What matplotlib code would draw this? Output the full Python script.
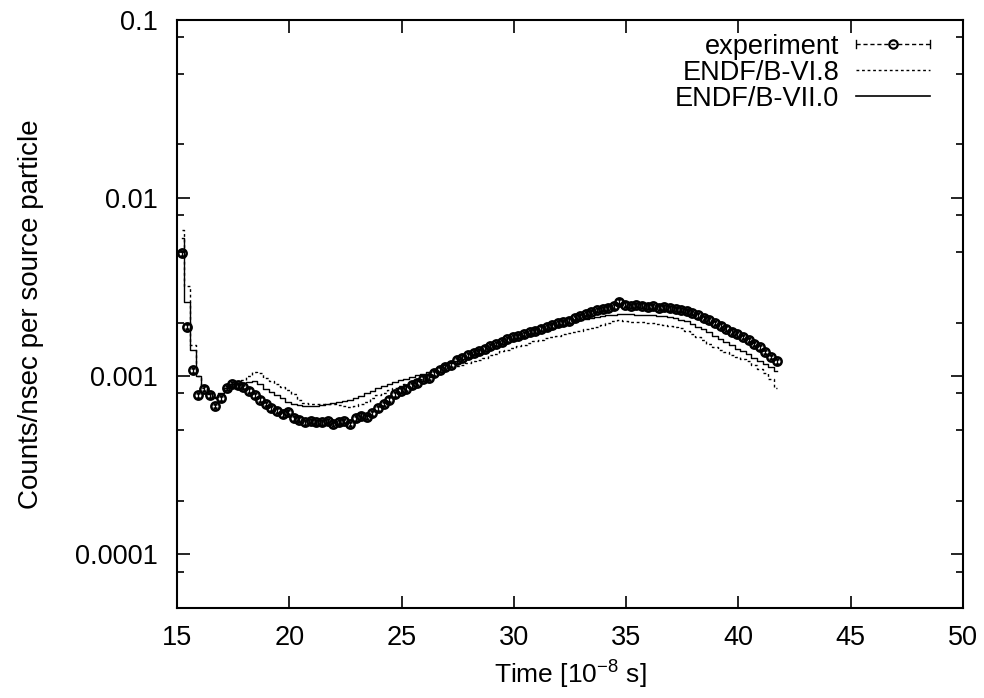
import numpy as np
import matplotlib
matplotlib.use("Agg")
import matplotlib.pyplot as plt
from matplotlib.lines import Line2D
from matplotlib.legend_handler import HandlerBase
from matplotlib.ticker import FixedLocator, NullFormatter, FuncFormatter

plt.rcParams['font.family'] = ['Liberation Sans', 'DejaVu Sans']
plt.rcParams['mathtext.fontset'] = 'custom'
plt.rcParams['mathtext.rm'] = 'Liberation Sans'
plt.rcParams['mathtext.it'] = 'Liberation Sans:italic'

# ---- data (bin centres every 0.25 starting at 15.2) ----
t_start = 15.2
t_step = 0.25

experiment = [
    0.0049, 0.0019, 0.00108, 0.00078, 0.00085, 0.00078, 0.00068, 0.00075,
    0.00086, 0.00090, 0.00089, 0.00087, 0.00083, 0.00078, 0.00074, 0.00070,
    0.00066, 0.00064, 0.00061, 0.00063, 0.00058, 0.00057, 0.00055, 0.00056,
    0.00055, 0.00055, 0.00056, 0.00054, 0.00055, 0.00056, 0.00054, 0.00058,
    0.00060, 0.00059, 0.00062, 0.00066, 0.00070, 0.00074, 0.00079, 0.00083,
    0.00085, 0.00089, 0.00092, 0.00097, 0.00098, 0.00104, 0.00109, 0.00113,
    0.00116, 0.00123, 0.00127, 0.00131, 0.00135, 0.00138, 0.00143, 0.00148,
    0.00152, 0.00156, 0.00161, 0.00165, 0.00168, 0.00173, 0.00177, 0.00180,
    0.00185, 0.00188, 0.00193, 0.00198, 0.00201, 0.00205, 0.00212, 0.00218,
    0.00224, 0.00229, 0.00235, 0.00238, 0.00243, 0.00247, 0.00262, 0.00252,
    0.00248, 0.00251, 0.00249, 0.00246, 0.00247, 0.00243, 0.00244, 0.00240,
    0.00238, 0.00235, 0.00232, 0.00226, 0.00220, 0.00212, 0.00206, 0.00199,
    0.00192, 0.00185, 0.00178, 0.00172, 0.00166, 0.00160, 0.00152, 0.00145,
    0.00137, 0.00128, 0.00121,
]

endf_vi8 = [
    0.0066, 0.0032, 0.0015, 0.00100, 0.00086, 0.00079, 0.00075, 0.00079,
    0.00084, 0.00088, 0.00091, 0.00095, 0.00100, 0.00105, 0.00104, 0.00098,
    0.00094, 0.00090, 0.00087, 0.00084, 0.00079, 0.00074, 0.00071, 0.00070,
    0.00070, 0.00070, 0.00070, 0.00070, 0.00069, 0.00068, 0.00067, 0.00068,
    0.00070, 0.00072, 0.00075, 0.00078, 0.00081, 0.00084, 0.00086, 0.00088,
    0.00090, 0.00092, 0.00094, 0.00096, 0.00099, 0.00102, 0.00105, 0.00108,
    0.00111, 0.00114, 0.00116, 0.00118, 0.00121, 0.00124, 0.00127, 0.00131,
    0.00134, 0.00138, 0.00141, 0.00144, 0.00147, 0.00150, 0.00153, 0.00157,
    0.00160, 0.00163, 0.00166, 0.00169, 0.00172, 0.00174, 0.00177, 0.00180,
    0.00183, 0.00187, 0.00190, 0.00194, 0.00198, 0.00204, 0.00206, 0.00204,
    0.00202, 0.00201, 0.00201, 0.00200, 0.00198, 0.00196, 0.00194, 0.00192,
    0.00190, 0.00187, 0.00180, 0.00173, 0.00166, 0.00159, 0.00152, 0.00146,
    0.00141, 0.00137, 0.00132, 0.00128, 0.00125, 0.00121, 0.00116, 0.00110,
    0.00104, 0.00096, 0.00086,
]

endf_vii0 = [
    0.0060, 0.0026, 0.0014, 0.00100, 0.00088, 0.00080, 0.00076, 0.00080,
    0.00086, 0.00090, 0.00091, 0.00092, 0.00093, 0.00094, 0.00090, 0.00085,
    0.00082, 0.00078, 0.00075, 0.00072, 0.00070, 0.00069, 0.00068, 0.00068,
    0.00068, 0.00069, 0.00070, 0.00071, 0.00072, 0.00073, 0.00074, 0.00075,
    0.00077, 0.00080, 0.00083, 0.00086, 0.00088, 0.00090, 0.00093, 0.00095,
    0.00097, 0.00099, 0.00101, 0.00103, 0.00106, 0.00109, 0.00112, 0.00115,
    0.00118, 0.00121, 0.00125, 0.00128, 0.00131, 0.00135, 0.00139, 0.00143,
    0.00147, 0.00151, 0.00155, 0.00159, 0.00163, 0.00167, 0.00171, 0.00175,
    0.00179, 0.00183, 0.00187, 0.00191, 0.00195, 0.00199, 0.00203, 0.00207,
    0.00210, 0.00213, 0.00216, 0.00219, 0.00221, 0.00222, 0.00223, 0.00223,
    0.00223, 0.00222, 0.00222, 0.00221, 0.00220, 0.00219, 0.00217, 0.00215,
    0.00212, 0.00208, 0.00203, 0.00197, 0.00190, 0.00183, 0.00176, 0.00168,
    0.00161, 0.00155, 0.00149, 0.00143, 0.00138, 0.00133, 0.00127, 0.00122,
    0.00117, 0.00112, 0.00107,
]

labels = ["experiment", "ENDF/B-VI.8", "ENDF/B-VII.0"]
x_ticks = [15, 20, 25, 30, 35, 40, 45, 50]
y_ticks = [0.0001, 0.001, 0.01, 0.1]
y_tick_labels = ["0.0001", "0.001", "0.01", "0.1"]

time = t_start + t_step * np.arange(len(experiment))
experiment = np.array(experiment)
endf_vi8 = np.array(endf_vi8)
endf_vii0 = np.array(endf_vii0)


class HandlerErrBar(HandlerBase):
    """gnuplot-like  |--o--|  legend sample"""
    def create_artists(self, legend, orig_handle, xdescent, ydescent,
                       width, height, fontsize, trans):
        y = height / 2.0 - ydescent
        x0 = -xdescent
        x1 = -xdescent + width
        cap = 3.0
        arts = [
            Line2D([x0, x1], [y, y], color='k', lw=1.0, ls=(0, (3, 2))),
            Line2D([x0, x0], [y - cap, y + cap], color='k', lw=1.0),
            Line2D([x1, x1], [y - cap, y + cap], color='k', lw=1.0),
            Line2D([(x0 + x1) / 2.0], [y], marker='o', ms=6, mfc='none',
                   mec='k', mew=1.6, ls='none'),
        ]
        for a in arts:
            a.set_transform(trans)
        return arts


# ---- figure ----
fig = plt.figure(figsize=(9.84, 6.98), dpi=100)
ax = fig.add_axes([0.180, 0.129, 0.7987, 0.8424])

ax.set_yscale('log')
ax.set_xlim(15, 50)
ax.set_ylim(5.0e-5, 0.1)

ax.plot(time, endf_vi8, drawstyle='steps-mid', color='k', lw=1.0,
        ls=(0, (2, 2)))
ax.plot(time, endf_vii0, drawstyle='steps-mid', color='k', lw=1.0, ls='-')
ax.errorbar(time, experiment, yerr=0.03 * experiment, fmt='o', ms=6,
            mfc='none', mec='k', mew=1.8, ecolor='k', elinewidth=1.0,
            capsize=1.5, color='k')

# ticks
ax.xaxis.set_major_locator(FixedLocator(x_ticks))
ax.yaxis.set_major_locator(FixedLocator(y_ticks))
ax.yaxis.set_major_formatter(FuncFormatter(
    lambda v, p: dict(zip(y_ticks, y_tick_labels)).get(v, "")))
minor = [m * 10.0 ** e for e in range(-5, -1) for m in (2, 5, 8)]
ax.yaxis.set_minor_locator(FixedLocator(minor))
ax.yaxis.set_minor_formatter(NullFormatter())
ax.tick_params(which='major', direction='in', length=9, width=1.2,
               top=True, right=True, labelsize=19.5, colors='k')
ax.tick_params(which='minor', direction='in', length=5, width=1.2,
               top=False, right=True, left=True)
ax.tick_params(axis='x', pad=12)
ax.tick_params(axis='y', pad=14)
for s in ax.spines.values():
    s.set_linewidth(1.5)

ax.set_xlabel('Time [10$^{\\mathregular{-8}}$ s]', fontsize=19, labelpad=6)
ax.set_ylabel('Counts/nsec per source particle', fontsize=20, labelpad=22)

handles = [
    Line2D([], [], color='k'),
    Line2D([], [], color='k', ls=(0, (2, 2)), lw=1.0),
    Line2D([], [], color='k', ls='-', lw=1.2),
]
leg = ax.legend(handles, labels, loc='upper right', frameon=False,
                markerfirst=False, fontsize=19.5, handlelength=2.75,
                handletextpad=0.6, labelspacing=0.0,
                borderaxespad=0.0, bbox_to_anchor=(0.972, 0.995),
                handler_map={handles[0]: HandlerErrBar()})

fig.savefig('out.png', dpi=100)
